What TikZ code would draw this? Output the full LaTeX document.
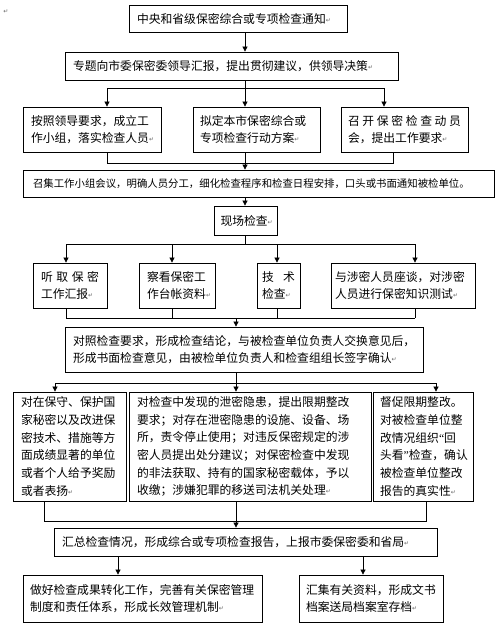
\documentclass[tikz,border=0pt]{standalone}
\usepackage{fontspec}
\setmainfont{Noto Sans CJK SC}
\newfontfamily\symfont{DejaVu Sans}
\newfontfamily\latinfont{Liberation Serif}
\usetikzlibrary{arrows.meta, positioning}
\tikzset{
  font=\fontsize{11.8pt}{17.7pt}\selectfont,
  flowbox/.style={rectangle, draw=black, line width=0.8pt, fill=white, text=black,
                  align=left, inner xsep=8pt, inner ysep=2pt},
  smallbox/.style={flowbox, font=\fontsize{10.4pt}{14pt}\selectfont},
  arr/.style={-{Triangle[length=5pt, width=5pt]}, draw=black, line width=0.7pt},
  link/.style={draw=black, line width=0.7pt},
}
\newcommand{\retmark}{{\symfont\fontsize{6pt}{6pt}\selectfont\color{black!60}\raisebox{1pt}{↵}}}
\newcommand{\spreadrow}[1]{\makebox[\hsize][l]{#1}}
\newcommand{\openq}{{\latinfont “}}
\newcommand{\closeq}{{\latinfont ”}}

\begin{document}
\begin{tikzpicture}[x=1pt, y=-1pt]
\fill[white] (0,0) rectangle (500,626);
\useasboundingbox (0,0) rectangle (500,626);

\node[inner sep=0pt] (parmark) at (6,12) {\retmark};

% --- top chain ---
\node[flowbox, text width=202pt, minimum height=27pt] (notice) at (238,18.5)
  {中央和省级保密综合或专项检查通知\retmark};
\node[flowbox, text width=317pt, minimum height=28pt] (report) at (231.5,66)
  {专题向市委保密委领导汇报，提出贯彻建议，供领导决策\retmark};

\node[flowbox, text width=122pt, minimum height=45pt] (form) at (92,129.5)
  {按照领导要求，成立工\\作小组，落实检查人员\retmark};
\node[flowbox, inner xsep=7pt, text width=113pt, minimum height=45pt] (plan) at (256.5,129.5)
  {拟定本市保密综合或\\专项检查行动方案\retmark};
\node[flowbox, inner xsep=7pt, text width=113pt, minimum height=45pt] (mobil) at (404.5,129.5)
  {\spreadrow{召\hfill 开\hfill 保\hfill 密\hfill 检\hfill 查\hfill 动\hfill 员}\\会，提出工作要求\retmark};

\node[smallbox, inner xsep=10pt, text width=451pt, minimum height=27pt] (meeting) at (258.5,183.5)
  {召集工作小组会议，明确人员分工，细化检查程序和检查日程安排，口头或书面通知被检单位。};
\node[flowbox, inner xsep=6.5pt, text width=50pt, minimum height=29pt] (onsite) at (245.5,220.5)
  {现场检查\retmark};

% --- on-site checks ---
\node[flowbox, text width=58pt, minimum height=45pt] (listen) at (70,285.5)
  {\spreadrow{听\hfill 取\hfill 保\hfill 密}\\工作汇报\retmark};
\node[flowbox, text width=60pt, minimum height=45pt] (ledger) at (177,285.5)
  {察看保密工\\作台帐资料\retmark};
\node[flowbox, inner xsep=5pt, text width=33pt, minimum height=45pt] (tech) at (278.5,285.5)
  {\spreadrow{技\hfill 术}\\检查\retmark};
\node[flowbox, inner xsep=4pt, text width=136pt, minimum height=45pt] (talk) at (403,285.5)
  {与涉密人员座谈，对涉密\\人员进行保密知识测试\retmark};

\node[flowbox, text width=342pt, minimum height=45pt] (conclude) at (244,349.5)
  {对照检查要求，形成检查结论，与被检查单位负责人交换意见后，\\形成书面检查意见，由被检单位负责人和检查组组长签字确认\retmark};

% --- handling ---
\node[flowbox, text width=97pt, minimum height=109pt] (reward) at (69.5,446.5)
  {对在保守、保护国\\家秘密以及改进保\\密技术、措施等方\\面成绩显著的单位\\或者个人给予奖励\\或者表扬\retmark};
\node[flowbox, text width=226pt, minimum height=109pt] (rectify) at (250,446.5)
  {对检查中发现的泄密隐患，提出限期整改\\要求；对存在泄密隐患的设施、设备、场\\所，责令停止使用；对违反保密规定的涉\\密人员提出处分建议；对保密检查中发现\\的非法获取、持有的国家秘密载体，予以\\收缴；涉嫌犯罪的移送司法机关处理\retmark};
\node[flowbox, inner xsep=7pt, text width=86pt, minimum height=109pt] (review) at (423,446.5)
  {督促限期整改。\\对被检查单位整\\改情况组织\openq 回\\头看\closeq 检查，确认\\被检查单位整改\\报告的真实性\retmark};

\node[flowbox, text width=367pt, minimum height=28pt] (summary) at (245.5,542)
  {汇总检查情况，形成综合或专项检查报告，上报市委保密委和省局\retmark};
\node[flowbox, inner xsep=7pt, text width=225pt, minimum height=47pt] (improve) at (142.5,598.5)
  {做好检查成果转化工作，完善有关保密管理\\制度和责任体系，形成长效管理机制\retmark};
\node[flowbox, inner xsep=7pt, text width=130pt, minimum height=47pt] (archive) at (371,598.5)
  {汇集有关资料，形成文书\\档案送局档案室存档\retmark};

% --- bus points ---
\coordinate (spineA) at (245,0);
\coordinate (busA)  at (245,88);  \coordinate (busAl) at (107,88);  \coordinate (busAr) at (384,88);
\coordinate (busB)  at (245,163); \coordinate (busBl) at (107,163); \coordinate (busBr) at (393,163);
\coordinate (busC)  at (245,244);
\coordinate (busC1) at (66,244);  \coordinate (busC2) at (172,244); \coordinate (busC3) at (277,244); \coordinate (busC4) at (415,244);
\coordinate (busD)  at (236,318);
\coordinate (busD1) at (66,318);  \coordinate (busD2) at (172,318); \coordinate (busD3) at (277,318); \coordinate (busD4) at (415,318);
\coordinate (busE)  at (236,383); \coordinate (busEl) at (55,383);  \coordinate (busEr) at (436,383);
\coordinate (busF)  at (236,521); \coordinate (busFl) at (44,521);  \coordinate (busFr) at (426,521);
\coordinate (outL) at (118,0);    \coordinate (outR) at (363,0);

% --- connectors ---
\draw[arr] (notice.south -| spineA) -- (report.north -| spineA);
\draw[link] (report.south -| busA) -- (busA);
\draw[link] (busAl) -- (busAr);
\draw[arr] (busAl) -- (busAl |- form.north);
\draw[arr] (busA)  -- (busA |- plan.north);
\draw[arr] (busAr) -- (busAr |- mobil.north);

\draw[link] (form.south -| busBl) -- (busBl) -- (busBr) -- (mobil.south -| busBr);
\draw[link] (plan.south -| busB) -- (busB);
\draw[arr] (busB) -- (meeting.north -| busB);
\draw[arr] (meeting.south -| spineA) -- (onsite.north -| spineA);

\draw[link] (onsite.south -| busC) -- (busC);
\draw[link] (busC1) -- (busC4);
\foreach \c/\n in {busC1/listen, busC2/ledger, busC3/tech, busC4/talk}
  \draw[arr] (\c) -- (\c |- \n.north);

\foreach \c/\n in {busD1/listen, busD2/ledger, busD3/tech, busD4/talk}
  \draw[link] (\n.south -| \c) -- (\c);
\draw[link] (busD1) -- (busD4);
\draw[arr] (busD) -- (conclude.north -| busD);

\draw[link] (conclude.south -| busE) -- (busE);
\draw[link] (busEl) -- (busEr);
\foreach \c/\n in {busEl/reward, busE/rectify, busEr/review}
  \draw[arr] (\c) -- (\c |- \n.north);

\draw[link] (reward.south -| busFl) -- (busFl) -- (busFr) -- (review.south -| busFr);
\draw[link] (rectify.south -| busF) -- (busF);
\draw[arr] (busF) -- (summary.north -| busF);

\draw[arr] (summary.south -| outL) -- (improve.north -| outL);
\draw[arr] (summary.south -| outR) -- (archive.north -| outR);

\end{tikzpicture}
\end{document}
